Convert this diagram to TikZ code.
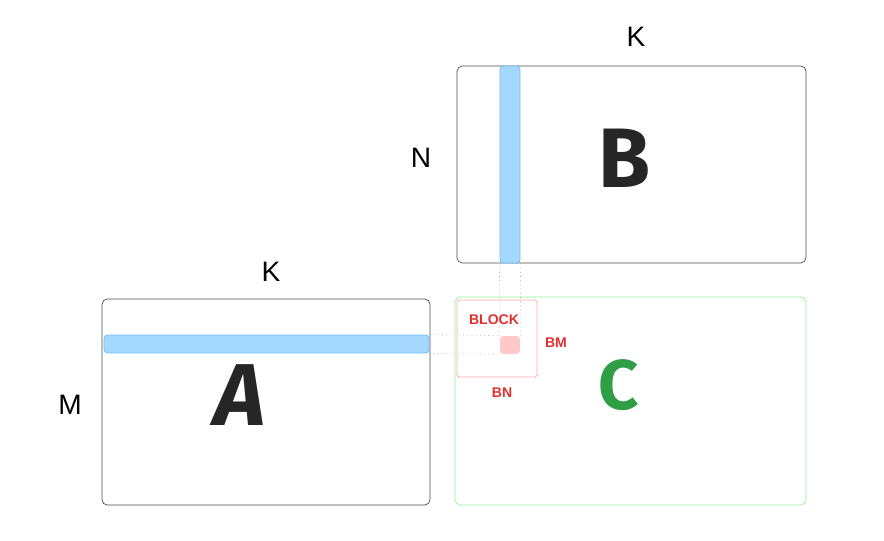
\documentclass[tikz,border=0pt]{standalone}
\usepackage{fontspec}
\setmainfont{Liberation Sans}
\newfontfamily\handfont{Fira Sans}
\usetikzlibrary{fit}
\definecolor{barblue}{HTML}{A5D8FF}
\definecolor{barline}{HTML}{74C0FC}
\definecolor{blkred}{HTML}{E03131}
\definecolor{blkline}{HTML}{FFA8A8}
\definecolor{blkfill}{HTML}{FFC9C9}
\definecolor{cgreen}{HTML}{2F9E44}
\definecolor{cline}{HTML}{B2F2BB}
\tikzset{
  mat/.style={draw=black!70,line width=0.4pt,rounded corners=3pt,inner sep=0pt},
  bar/.style={draw=barline,fill=barblue,line width=0.5pt,rounded corners=2pt,inner sep=0pt},
  dim/.style={font=\fontsize{16}{18}\selectfont},
  big/.style={font=\handfont\bfseries\fontsize{48}{52}\selectfont,text=black!85},
  tag/.style={font=\bfseries\fontsize{8}{9}\selectfont,text=blkred},
  guide/.style={draw=black!35,dotted,line width=0.4pt}
}
\begin{document}
\begin{tikzpicture}[x=0.02cm,y=-0.02cm]
\useasboundingbox (0,0) rectangle (884,540);
% matrices
\node[mat,fit={(457,66) (806,263)}] (B) {};
\node[mat,fit={(102,299) (430,505)}] (A) {};
\node[mat,draw=cline!80!green,fit={(455,297) (806,505)}] (C) {};
% rows / columns
\node[bar,fit={(500,66) (520,263)}] (colB) {};
\node[bar,fit={(104,335) (429,353)}] (rowA) {};
% block
\node[draw=blkline,line width=0.5pt,rounded corners=1pt,inner sep=0pt,fit={(457,300) (537,377)}] (blk) {};
\node[fill=blkfill,rounded corners=2pt,inner sep=0pt,fit={(500,336) (520,354)}] (el) {};
\draw[guide] (rowA.north east) -- (el.north west);
\draw[guide] (rowA.south east) -- (el.south west);
\draw[guide] (colB.south west) -- (el.north west);
\draw[guide] (colB.south east) -- (el.north east);
% labels
\node[dim] (kB) at (636,37) {K};
\node[dim] (nB) at (421,158) {N};
\node[dim] (kA) at (271,272) {K};
\node[dim] (mA) at (70,405) {M};
\node[big] (lB) at (625,158) {B};
\node[big,font=\handfont\bfseries\itshape\fontsize{50}{54}\selectfont] (lA) at (240,395) {A};
\node[big,text=cgreen,font=\handfont\bfseries\fontsize{40}{44}\selectfont] (lC) at (619,385) {C};
\node[tag] (tb) at (494,320) {BLOCK};
\node[tag] (tm) at (556,343) {BM};
\node[tag] (tn) at (502,393) {BN};
\end{tikzpicture}
\end{document}
